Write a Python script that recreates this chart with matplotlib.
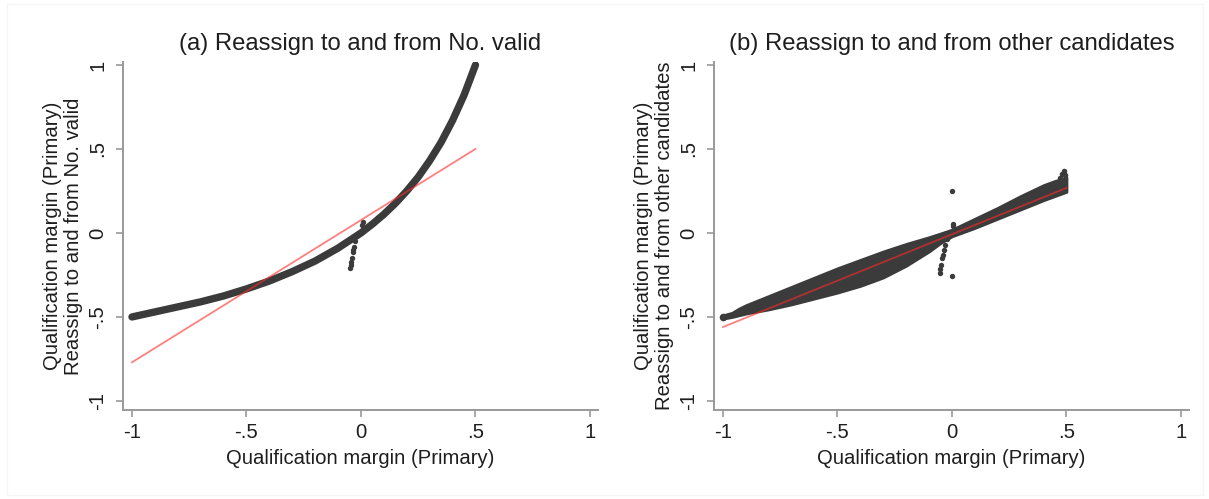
import matplotlib
matplotlib.use("Agg")
import matplotlib.pyplot as plt
from matplotlib.patches import Rectangle

plt.rcParams['font.family'] = ['Liberation Sans', 'DejaVu Sans']

# ---------------- data ----------------
# Panel (a): curve of reassigned margin vs primary margin
a_curve_x = [-1.0, -0.9, -0.8, -0.7, -0.6, -0.5, -0.4, -0.3, -0.2, -0.1, 0.0,
             0.05, 0.1, 0.15, 0.2, 0.25, 0.3, 0.35, 0.4, 0.45, 0.5]
a_curve_y = [-0.50, -0.47, -0.44, -0.41, -0.375, -0.333, -0.286, -0.23, -0.167, -0.09, 0.0,
             0.053, 0.111, 0.176, 0.25, 0.333, 0.43, 0.54, 0.67, 0.82, 1.0]
# stray points near zero
a_stray_x = [-0.047, -0.045, -0.043, -0.041, -0.036, -0.034, -0.032, -0.027, -0.021, 0.006, 0.009]
a_stray_y = [-0.21, -0.19, -0.17, -0.15, -0.115, -0.10, -0.085, -0.05, -0.02, 0.045, 0.065]
# fitted line endpoints
a_fit_x = [-1.0, 0.5]
a_fit_y = [-0.77, 0.50]

# Panel (b): band of points (upper / lower envelope)
b_band_x = [-1.0, -0.96, -0.93, -0.9, -0.8, -0.7, -0.6, -0.5, -0.4, -0.3, -0.2,
            -0.1, -0.05, 0.0, 0.1, 0.2, 0.3, 0.4, 0.45, 0.5]
b_band_hi = [-0.49, -0.475, -0.45, -0.43, -0.375, -0.32, -0.265, -0.21, -0.16, -0.11, -0.065,
             -0.025, -0.003, 0.02, 0.085, 0.15, 0.22, 0.285, 0.31, 0.33]
b_band_lo = [-0.51, -0.50, -0.49, -0.48, -0.455, -0.425, -0.39, -0.355, -0.315, -0.265, -0.195,
             -0.11, -0.06, -0.02, 0.03, 0.085, 0.14, 0.195, 0.22, 0.245]
b_spike_x = [0.47, 0.48, 0.49, 0.495]
b_spike_y = [0.33, 0.35, 0.37, 0.345]
b_stray_x = [0.0, 0.0, -0.054, -0.051, -0.048, -0.042, -0.039, -0.035, -0.03, -0.022, 0.003, 0.005]
b_stray_y = [0.25, -0.255, -0.24, -0.215, -0.19, -0.15, -0.13, -0.10, -0.07, -0.035, 0.04, 0.055]
b_fit_x = [-1.0, 0.5]
b_fit_y = [-0.56, 0.268]

titles = ["(a) Reassign to and from No. valid", "(b) Reassign to and from other candidates"]
ylabels = ["Qualification margin (Primary)\nReassign to and from No. valid",
           "Qualification margin (Primary)\nReassign to and from other candidates"]
xlabel = "Qualification margin (Primary)"
ticks = [-1, -0.5, 0, 0.5, 1]
tick_labels = ["-1", "-.5", "0", ".5", "1"]

# ---------------- figure ----------------
W, H = 1209, 499
fig = plt.figure(figsize=(W / 100, H / 100), dpi=100)
fig.patches.append(Rectangle((7 / W, 4 / H), 1196 / W, 491 / H, transform=fig.transFigure,
                             fill=False, edgecolor='#f6f6f6', linewidth=1.0))

DARK = '#3b3b3b'
AXC = '#999999'
TXT = '#1e1e1e'
FS = 14.6

ax_a = fig.add_axes([122.8 / W, 1 - 410.2 / H, 475.2 / W, 348.6 / H])
ax_b = fig.add_axes([713.8 / W, 1 - 410.2 / H, 475.2 / W, 348.6 / H])

# panel a
ax_a.plot(a_curve_x, a_curve_y, color=DARK, lw=5.3, solid_capstyle='round', solid_joinstyle='round', zorder=2)
ax_a.scatter(a_stray_x, a_stray_y, s=15, color=DARK, linewidths=0, zorder=2)
ax_a.plot(a_fit_x, a_fit_y, color='#ff2a2a', alpha=0.6, lw=1.3, zorder=3)

# panel b
ax_b.fill_between(b_band_x, b_band_lo, b_band_hi, color=DARK, linewidth=2.0, edgecolor=DARK, zorder=2)
ax_b.scatter(b_spike_x, b_spike_y, s=16, color=DARK, linewidths=0, zorder=2)
ax_b.scatter([b_band_x[0]], [(b_band_hi[0] + b_band_lo[0]) / 2], s=30, color=DARK, linewidths=0, zorder=2)
ax_b.scatter(b_stray_x, b_stray_y, s=15, color=DARK, linewidths=0, zorder=2)
ax_b.plot(b_fit_x, b_fit_y, color='#ff2a2a', alpha=0.6, lw=1.3, zorder=3)

for ax, t, yl in [(ax_a, titles[0], ylabels[0]), (ax_b, titles[1], ylabels[1])]:
    ax.set_xlim(-1.04, 1.035)
    ax.set_ylim(-1.055, 1.02)
    for s in ['top', 'right']:
        ax.spines[s].set_visible(False)
    for s in ['left', 'bottom']:
        ax.spines[s].set_color(AXC)
        ax.spines[s].set_linewidth(1.4)
    ax.set_xticks(ticks)
    ax.set_xticklabels(tick_labels)
    ax.set_yticks(ticks)
    ax.set_yticklabels(tick_labels, rotation=90, va='center')
    ax.tick_params(axis='both', colors=AXC, labelcolor=TXT, length=5, width=1.2,
                   labelsize=FS, pad=4)
    ax.tick_params(axis='y', pad=6)
    ax.set_title(t, fontsize=17.2, color=TXT, pad=8)
    ax.set_xlabel(xlabel, fontsize=FS, color=TXT, labelpad=5)
    ax.set_ylabel(yl, fontsize=FS, color=TXT, labelpad=4, linespacing=1.12)

fig.savefig("out.png", dpi=100, facecolor='white')
